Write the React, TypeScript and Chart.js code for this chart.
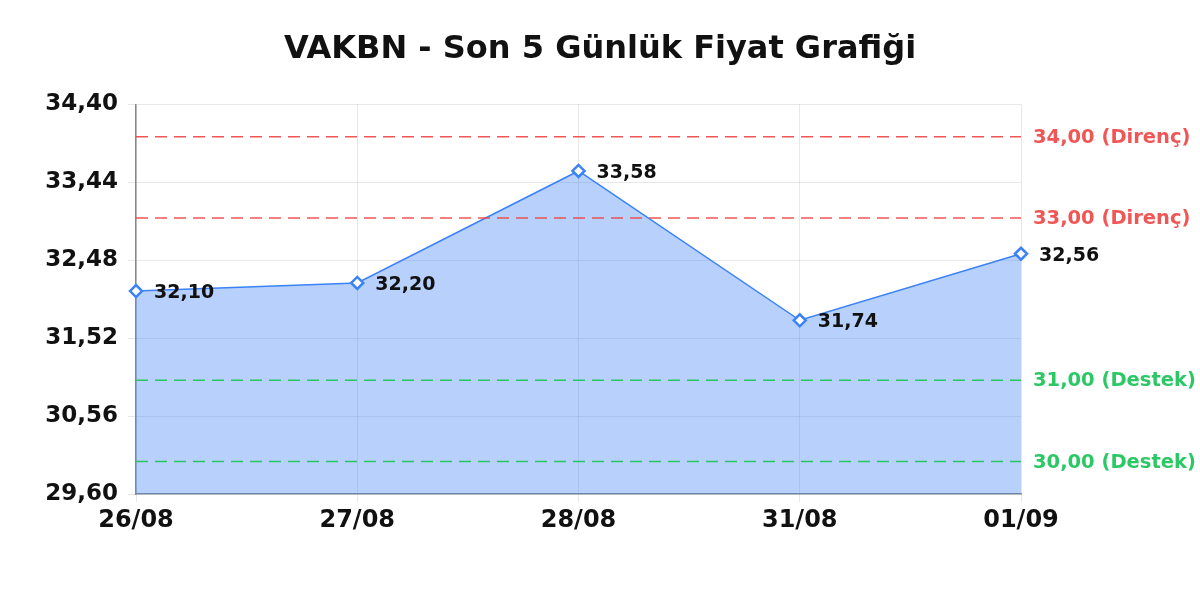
import React, { useRef, useEffect } from 'react';
import { Chart, ChartConfiguration, Plugin, registerables } from 'chart.js';

Chart.register(...registerables);

const FONT = '"DejaVu Sans", sans-serif';

const dates = ['26/08', '27/08', '28/08', '31/08', '01/09'];
const prices = [32.1, 32.2, 33.58, 31.74, 32.56];
const yTicks = [29.6, 30.56, 31.52, 32.48, 33.44, 34.4];
const resistance = [34.0, 33.0];
const support = [31.0, 30.0];

const RED = 'rgba(239, 68, 68, 0.9)';
const GREEN = 'rgba(34, 197, 94, 0.95)';
const BLUE = '#3b82f6';

const fmt = (v: number) => v.toFixed(2).replace('.', ',');

// yatay destek / direnç çizgileri ve sağdaki etiketler
const levelLines: Plugin = {
  id: 'levelLines',
  afterDatasetsDraw(chart) {
    const { ctx, chartArea } = chart;
    const y = chart.scales.y;
    const levels = [
      ...resistance.map((v) => ({ v, color: RED, text: `${fmt(v)} (Direnç)` })),
      ...support.map((v) => ({ v, color: GREEN, text: `${fmt(v)} (Destek)` })),
    ];
    ctx.save();
    levels.forEach((l) => {
      const py = y.getPixelForValue(l.v);
      ctx.beginPath();
      ctx.setLineDash([12, 7]);
      ctx.lineWidth = 1.5;
      ctx.strokeStyle = l.color;
      ctx.moveTo(chartArea.left, py);
      ctx.lineTo(chartArea.right, py);
      ctx.stroke();
      ctx.setLineDash([]);
      ctx.fillStyle = l.color;
      ctx.font = `bold 19.5px ${FONT}`;
      ctx.textAlign = 'left';
      ctx.textBaseline = 'middle';
      ctx.fillText(l.text, chartArea.right + 12, py + 1);
    });
    ctx.restore();
  },
};

// nokta değerleri
const pointLabels: Plugin = {
  id: 'pointLabels',
  afterDraw(chart) {
    const { ctx } = chart;
    const meta = chart.getDatasetMeta(0);
    ctx.save();
    ctx.fillStyle = '#111';
    ctx.font = `bold 19px ${FONT}`;
    ctx.textAlign = 'left';
    ctx.textBaseline = 'middle';
    meta.data.forEach((pt, i) => {
      ctx.fillText(fmt(prices[i]), pt.x + 18, pt.y + 2);
    });
    ctx.restore();
  },
};

export default function App() {
  const canvasRef = useRef<HTMLCanvasElement>(null);
  const chartRef = useRef<Chart | null>(null);

  useEffect(() => {
    if (!canvasRef.current) return;
    if (chartRef.current) chartRef.current.destroy();

    const config: ChartConfiguration = {
      type: 'line',
      data: {
        labels: dates,
        datasets: [
          {
            data: prices,
            borderColor: BLUE,
            backgroundColor: 'rgba(59, 130, 246, 0.37)',
            borderWidth: 1.5,
            fill: 'start',
            tension: 0,
            pointStyle: 'rectRot',
            pointRadius: 6,
            pointBorderWidth: 2.5,
            pointBackgroundColor: '#fff',
            pointBorderColor: BLUE,
          },
        ],
      },
      options: {
        responsive: true,
        maintainAspectRatio: false,
        animation: false,
        layout: { padding: 0 },
        plugins: {
          legend: { display: false },
          tooltip: { enabled: false },
          title: {
            display: true,
            text: 'VAKBN - Son 5 Günlük Fiyat Grafiği',
            color: '#111',
            font: { family: FONT, size: 32, weight: 'bold' },
            padding: { top: 30, bottom: 36 },
          },
        },
        scales: {
          x: {
            offset: false,
            grid: { color: 'rgba(0, 0, 0, 0.09)', lineWidth: 1 },
            border: { color: '#888', width: 1.5 },
            ticks: {
              color: '#111',
              font: { family: FONT, size: 24, weight: 'bold' },
              padding: 4,
              maxRotation: 0,
            },
            afterFit(scale) {
              scale.height = 106;
            },
          },
          y: {
            min: 29.6,
            max: 34.4,
            grid: { color: 'rgba(0, 0, 0, 0.09)', lineWidth: 1 },
            border: { color: '#888', width: 1.5 },
            afterBuildTicks(scale) {
              scale.ticks = yTicks.map((v) => ({ value: v }));
            },
            ticks: {
              color: '#111',
              font: { family: FONT, size: 23, weight: 'bold' },
              padding: 10,
              callback: (v) => fmt(Number(v)),
            },
            afterFit(scale) {
              scale.width = 136;
            },
          },
          // sağdaki etiketler için boş alan
          yRight: {
            position: 'right',
            min: 29.6,
            max: 34.4,
            grid: { display: false },
            border: { display: false },
            ticks: { display: false },
            afterFit(scale) {
              scale.width = 179;
            },
          },
        },
      },
      plugins: [levelLines, pointLabels],
    };

    chartRef.current = new Chart(canvasRef.current, config);

    return () => {
      if (chartRef.current) {
        chartRef.current.destroy();
        chartRef.current = null;
      }
    };
  }, []);

  return (
    <div style={{ position: 'fixed', left: 0, top: 0, width: 1200, height: 600, background: '#fff' }}>
      <canvas ref={canvasRef} />
    </div>
  );
}
